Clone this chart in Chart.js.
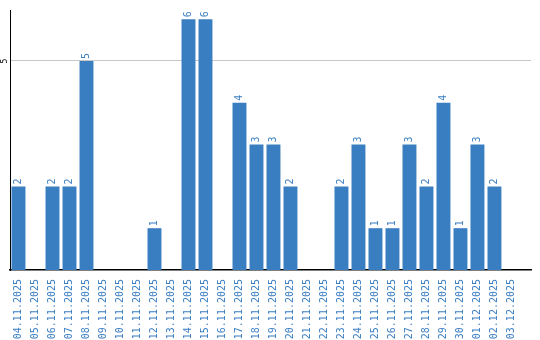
<!DOCTYPE html>
<html>
<head>
<meta charset="utf-8">
<script src="https://cdn.jsdelivr.net/npm/chart.js@4"></script>
<style>
  html, body { margin: 0; padding: 0; background: #fff; }
  #wrap { width: 540px; height: 340px; }
</style>
</head>
<body>
<div id="wrap"><canvas id="chart" width="540" height="340"></canvas></div>
<script>
// data
const dates = [
  "04.11.2025", "05.11.2025", "06.11.2025", "07.11.2025", "08.11.2025",
  "09.11.2025", "10.11.2025", "11.11.2025", "12.11.2025", "13.11.2025",
  "14.11.2025", "15.11.2025", "16.11.2025", "17.11.2025", "18.11.2025",
  "19.11.2025", "20.11.2025", "21.11.2025", "22.11.2025", "23.11.2025",
  "24.11.2025", "25.11.2025", "26.11.2025", "27.11.2025", "28.11.2025",
  "29.11.2025", "30.11.2025", "01.12.2025", "02.12.2025", "03.12.2025"
];
const counts = [2, 0, 2, 2, 5, 0, 0, 0, 1, 0, 6, 6, 0, 4, 3, 3, 2, 0, 0, 2, 3, 1, 1, 3, 2, 4, 1, 3, 2, 0];
const yTicks = [5];

const BLUE = "#3a7ec2";
const FONT = "'DejaVu Sans Mono', monospace";

// value labels above bars + the rotated "5" on the y axis
const labelPlugin = {
  id: "barLabels",
  afterDatasetsDraw(chart) {
    const ctx = chart.ctx;
    const meta = chart.getDatasetMeta(0);
    ctx.save();
    ctx.font = "10px " + FONT;
    ctx.fillStyle = BLUE;
    ctx.textAlign = "left";
    ctx.textBaseline = "middle";
    meta.data.forEach((bar, i) => {
      const v = counts[i];
      if (!v) return;
      ctx.save();
      ctx.translate(bar.x, bar.y - 2);
      ctx.rotate(-Math.PI / 2);
      ctx.fillText(String(v), 0, 0);
      ctx.restore();
    });
    const y = chart.scales.y;
    ctx.fillStyle = "#000";
    ctx.font = "8px " + FONT;
    ctx.textAlign = "center";
    yTicks.forEach(t => {
      ctx.save();
      ctx.translate(4.5, y.getPixelForValue(t));
      ctx.rotate(-Math.PI / 2);
      ctx.fillText(String(t), 0, 0);
      ctx.restore();
    });
    ctx.restore();
  }
};

// axis runs a bit past the last day, so use a linear index scale
const xMin = -0.5;
const xMax = 30.15;

new Chart(document.getElementById("chart"), {
  type: "bar",
  data: {
    datasets: [{
      data: counts.map((v, i) => ({ x: i, y: v })),
      backgroundColor: BLUE,
      borderWidth: 0,
      categoryPercentage: 1,
      barPercentage: 0.82
    }]
  },
  options: {
    responsive: false,
    animation: false,
    layout: { padding: { top: 10, right: 9, left: 0, bottom: 0 } },
    plugins: { legend: { display: false }, tooltip: { enabled: false } },
    scales: {
      x: {
        type: "linear",
        min: xMin,
        max: xMax,
        offset: false,
        afterBuildTicks: s => { s.ticks = dates.map((d, i) => ({ value: i })); },
        grid: { display: false },
        border: { display: true, color: "#000", width: 1.5 },
        ticks: {
          color: BLUE,
          font: { family: FONT, size: 10 },
          minRotation: 90,
          maxRotation: 90,
          autoSkip: false,
          padding: 1,
          callback: v => dates[v]
        },
        afterFit: s => { s.height = 70; }
      },
      y: {
        min: 0,
        max: 6.22,
        afterBuildTicks: s => { s.ticks = yTicks.map(v => ({ value: v })); },
        grid: { color: "#c8c8c8", drawTicks: false },
        border: { display: true, color: "#000", width: 1 },
        ticks: { display: false },
        afterFit: s => { s.width = 10; }
      }
    }
  },
  plugins: [labelPlugin]
});
</script>
</body>
</html>
